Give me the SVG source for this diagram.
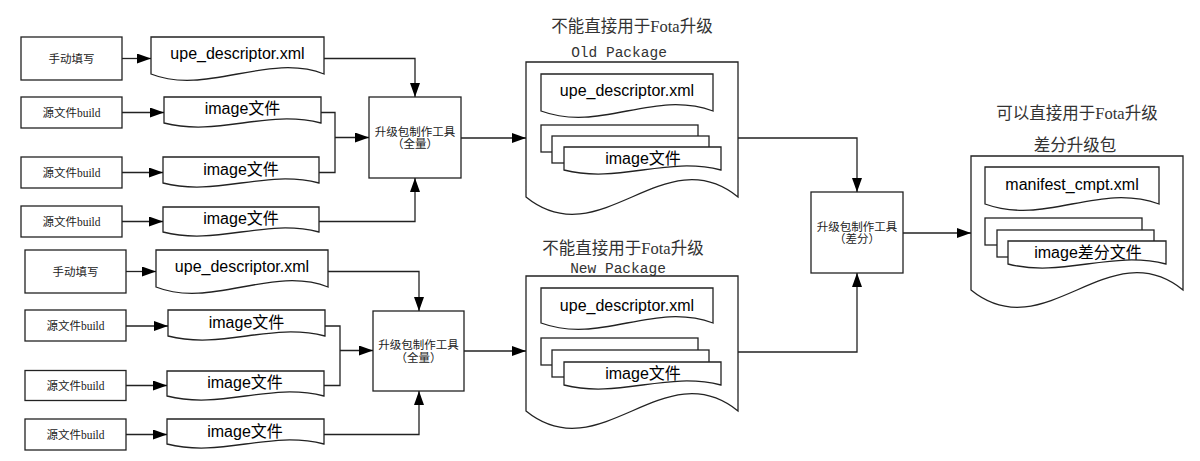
<svg xmlns="http://www.w3.org/2000/svg" width="1200" height="461" viewBox="0 0 1200 461">
<style>
.box{fill:#fff;stroke:#222;stroke-width:1.3}
.doc{fill:#fff;stroke:#222;stroke-width:1.3}
.ln{fill:none;stroke:#222;stroke-width:1.3}
.lbl{font-family:"Liberation Serif","Noto Sans CJK SC",serif;font-size:11.5px;fill:#222;text-anchor:middle;dominant-baseline:central}
.dt{font-family:"Liberation Sans","Noto Sans CJK SC",sans-serif;font-size:16px;fill:#000;text-anchor:middle;dominant-baseline:central}
.tt{font-family:"Liberation Serif","Noto Sans CJK SC",serif;font-size:16.5px;fill:#333;text-anchor:middle;dominant-baseline:central}
.pk{font-family:"Liberation Mono","Noto Sans CJK SC",monospace;font-size:14.5px;fill:#333;text-anchor:middle}
</style>
<defs>
<marker id="ah" markerUnits="userSpaceOnUse" markerWidth="14" markerHeight="10" refX="14" refY="5" orient="auto">
<path d="M0,0 L14,5 L0,10 z" fill="#000"/>
</marker>
</defs>

<!-- top section -->
<g id="manual1"><rect class="box" x="21" y="37" width="101" height="43"/><text class="lbl" x="71.5" y="58.5">手动填写</text></g>
<g id="upe1"><path class="doc" d="M151,37 H324 V74 C269,52 206,96 151,74 Z"/><text class="dt" x="237.5" y="53">upe_descriptor.xml</text></g>
<g id="src1"><rect class="box" x="21" y="97" width="101" height="31"/><text class="lbl" x="71.5" y="112.5">源文件build</text></g>
<g id="img1"><path class="doc" d="M164,97 H321 V123 C266,109 219,137 164,123 Z"/><text class="dt" x="242.5" y="108.5">image文件</text></g>
<g id="src2"><rect class="box" x="21" y="157" width="101" height="31"/><text class="lbl" x="71.5" y="172.5">源文件build</text></g>
<g id="img2"><path class="doc" d="M163,157 H319 V183 C265,169 217,197 163,183 Z"/><text class="dt" x="241" y="169">image文件</text></g>
<g id="src3"><rect class="box" x="21" y="206" width="101" height="31"/><text class="lbl" x="71.5" y="221.5">源文件build</text></g>
<g id="img3"><path class="doc" d="M163,207 H319 V232 C265,218 217,246 163,232 Z"/><text class="dt" x="241" y="218">image文件</text></g>
<g id="tool1"><rect class="box" x="369" y="97" width="92" height="81"/><text class="lbl" x="415" y="131.5">升级包制作工具</text><text class="lbl" x="415" y="144">（全量）</text></g>

<!-- bottom section -->
<g id="manual2"><rect class="box" x="25" y="250" width="101" height="43"/><text class="lbl" x="75.5" y="271.5">手动填写</text></g>
<g id="upe2"><path class="doc" d="M156,250 H328 V287 C273,265 211,309 156,287 Z"/><text class="dt" x="242" y="266.5">upe_descriptor.xml</text></g>
<g id="src4"><rect class="box" x="25" y="310" width="101" height="31"/><text class="lbl" x="75.5" y="326">源文件build</text></g>
<g id="img4"><path class="doc" d="M168,310 H325 V336 C270,322 223,350 168,336 Z"/><text class="dt" x="246.5" y="322">image文件</text></g>
<g id="src5"><rect class="box" x="25" y="370.5" width="101" height="30"/><text class="lbl" x="75.5" y="386">源文件build</text></g>
<g id="img5"><path class="doc" d="M167,371 H324 V396 C269,382 222,410 167,396 Z"/><text class="dt" x="245" y="382.5">image文件</text></g>
<g id="src6"><rect class="box" x="25" y="419" width="101" height="31"/><text class="lbl" x="75.5" y="434.5">源文件build</text></g>
<g id="img6"><path class="doc" d="M167,419 H324 V444 C269,430 222,458 167,444 Z"/><text class="dt" x="245" y="431">image文件</text></g>
<g id="tool2"><rect class="box" x="373" y="311" width="91" height="80"/><text class="lbl" x="418.5" y="344.5">升级包制作工具</text><text class="lbl" x="418.5" y="357.5">（全量）</text></g>

<!-- old package -->
<g id="oldpkg">
<text class="tt" x="632" y="26.5">不能直接用于Fota升级</text>
<text class="pk" x="619" y="57">Old Package</text>
<path class="doc" d="M526,62 H738 V197 C664,137 600,257 526,197 Z"/>
<path class="doc" d="M541,74 H713 V111 C653,89 601,133 541,111 Z"/>
<text class="dt" x="627" y="90">upe_descriptor.xml</text>
<rect class="box" x="541" y="125" width="157" height="27"/>
<rect class="box" x="552" y="136" width="157" height="27"/>
<path class="doc" d="M564,147 H721 V170 C666,156 619,184 564,170 Z"/>
<text class="dt" x="643" y="158.5">image文件</text>
</g>

<!-- new package -->
<g id="newpkg">
<text class="tt" x="623" y="248">不能直接用于Fota升级</text>
<text class="pk" x="618" y="272.5">New Package</text>
<path class="doc" d="M526,276 H738 V411 C664,351 600,471 526,411 Z"/>
<path class="doc" d="M541,288 H713 V323 C653,301 601,345 541,323 Z"/>
<text class="dt" x="627" y="305">upe_descriptor.xml</text>
<rect class="box" x="541" y="338" width="157" height="27"/>
<rect class="box" x="552" y="350" width="157" height="27"/>
<path class="doc" d="M564,362 H721 V385 C666,371 619,399 564,385 Z"/>
<text class="dt" x="643" y="373">image文件</text>
</g>

<g id="tool3"><rect class="box" x="811" y="192" width="92" height="81"/><text class="lbl" x="857" y="226.5">升级包制作工具</text><text class="lbl" x="857" y="239">（差分）</text></g>

<!-- result package -->
<g id="diffpkg">
<text class="tt" x="1077" y="113">可以直接用于Fota升级</text>
<text class="tt" x="1075" y="145">差分升级包</text>
<path class="doc" d="M971,156 H1183 V290 C1109,230 1045,350 971,290 Z"/>
<path class="doc" d="M985,167 H1159 V204 C1098,182 1046,226 985,204 Z"/>
<text class="dt" x="1072" y="184">manifest_cmpt.xml</text>
<rect class="box" x="985" y="218" width="157" height="27"/>
<rect class="box" x="997" y="230" width="157" height="27"/>
<path class="doc" d="M1008,241 H1166 V264 C1111,250 1063,278 1008,264 Z"/>
<text class="dt" x="1088" y="252.5">image差分文件</text>
</g>

<g id="connectors">
<path class="ln" d="M122,58.5 H151" marker-end="url(#ah)"/>
<path class="ln" d="M324,58.5 H415 V97" marker-end="url(#ah)"/>
<path class="ln" d="M122,112.5 H164" marker-end="url(#ah)"/>
<path class="ln" d="M122,172.5 H163" marker-end="url(#ah)"/>
<path class="ln" d="M321,112.5 H335 V137"/>
<path class="ln" d="M319,172.5 H335 V137"/>
<path class="ln" d="M335,137.5 H369" marker-end="url(#ah)"/>
<path class="ln" d="M122,221.5 H163" marker-end="url(#ah)"/>
<path class="ln" d="M319,221.5 H415 V178" marker-end="url(#ah)"/>
<path class="ln" d="M461,138 H526" marker-end="url(#ah)"/>
<path class="ln" d="M738,138 H857 V192" marker-end="url(#ah)"/>
<path class="ln" d="M126,271.5 H156" marker-end="url(#ah)"/>
<path class="ln" d="M328,271.5 H419 V311" marker-end="url(#ah)"/>
<path class="ln" d="M126,326 H168" marker-end="url(#ah)"/>
<path class="ln" d="M126,385.5 H167" marker-end="url(#ah)"/>
<path class="ln" d="M325,326 H340 V350"/>
<path class="ln" d="M324,385.5 H340 V350"/>
<path class="ln" d="M340,350.5 H373" marker-end="url(#ah)"/>
<path class="ln" d="M126,434.5 H167" marker-end="url(#ah)"/>
<path class="ln" d="M324,434.5 H419 V391" marker-end="url(#ah)"/>
<path class="ln" d="M464,351 H526" marker-end="url(#ah)"/>
<path class="ln" d="M738,352 H857 V273" marker-end="url(#ah)"/>
<path class="ln" d="M903,233 H971" marker-end="url(#ah)"/>
</g>
</svg>
